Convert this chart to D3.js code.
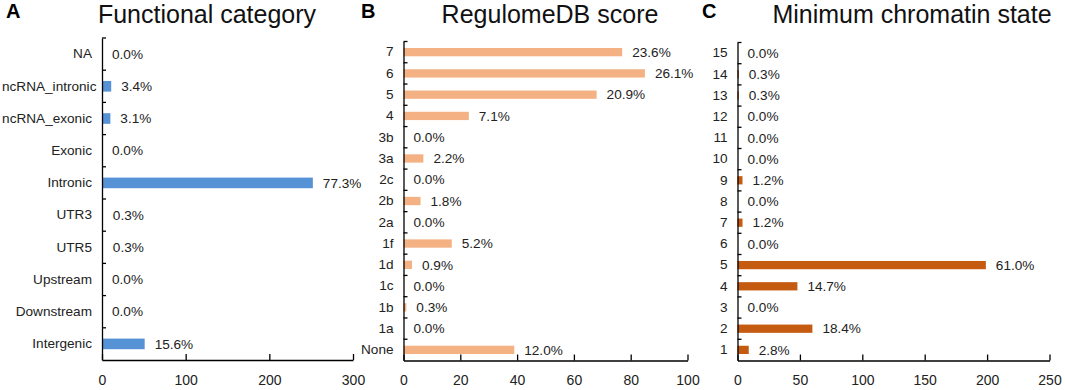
<!DOCTYPE html>
<html>
<head>
<meta charset="utf-8">
<script src="https://cdn.jsdelivr.net/npm/d3@7"></script>
<style>
  html, body { margin: 0; padding: 0; background: #fff; }
  svg { display: block; font-family: Arial, "Liberation Sans", sans-serif; }
</style>
</head>
<body>
<svg id="chart" width="1065" height="390"></svg>
<script>
// ---- Data ----
const funcCategories = ["NA", "ncRNA_intronic", "ncRNA_exonic", "Exonic", "Intronic", "UTR3", "UTR5", "Upstream", "Downstream", "Intergenic"];
const funcCounts = [0, 11, 10, 0, 252, 1, 1, 0, 0, 51];
const funcPercents = ["0.0%", "3.4%", "3.1%", "0.0%", "77.3%", "0.3%", "0.3%", "0.0%", "0.0%", "15.6%"];
const funcTicks = [0, 100, 200, 300];

const regCategories = ["7", "6", "5", "4", "3b", "3a", "2c", "2b", "2a", "1f", "1d", "1c", "1b", "1a", "None"];
const regCounts = [77, 85, 68, 23, 0, 7, 0, 6, 0, 17, 3, 0, 1, 0, 39];
const regPercents = ["23.6%", "26.1%", "20.9%", "7.1%", "0.0%", "2.2%", "0.0%", "1.8%", "0.0%", "5.2%", "0.9%", "0.0%", "0.3%", "0.0%", "12.0%"];
const regTicks = [0, 20, 40, 60, 80, 100];

const chromCategories = ["15", "14", "13", "12", "11", "10", "9", "8", "7", "6", "5", "4", "3", "2", "1"];
const chromCounts = [0, 1, 1, 0, 0, 0, 4, 0, 4, 0, 199, 48, 0, 60, 9];
const chromPercents = ["0.0%", "0.3%", "0.3%", "0.0%", "0.0%", "0.0%", "1.2%", "0.0%", "1.2%", "0.0%", "61.0%", "14.7%", "0.0%", "18.4%", "2.8%"];
const chromTicks = [0, 50, 100, 150, 200, 250];

const titles = ["Functional category", "RegulomeDB score", "Minimum chromatin state"];
const letters = ["A", "B", "C"];

// ---- Drawing ----
const svg = d3.select("#chart");
const FONT = "Arial, 'Liberation Sans', sans-serif";

function drawPanel(cfg) {
  const g = svg.append("g");
  const x = d3.scaleLinear().domain([0, cfg.ticks[cfg.ticks.length - 1]]).range([cfg.x0, cfg.x1]);
  const y = d3.scaleBand().domain(cfg.categories).range([cfg.top, cfg.bottom]);
  const bw = y.bandwidth();
  const bh = bw * cfg.barRatio;

  // bars
  g.selectAll("rect.bar").data(cfg.categories).enter().append("rect")
    .attr("class", "bar")
    .attr("x", x(0))
    .attr("y", d => y(d) + bw / 2 - bh / 2)
    .attr("width", (d, i) => x(cfg.counts[i]) - x(0))
    .attr("height", bh)
    .attr("fill", cfg.color);

  // value labels
  g.selectAll("text.val").data(cfg.categories).enter().append("text")
    .attr("class", "val")
    .attr("x", (d, i) => x(cfg.counts[i]) + 10)
    .attr("y", d => y(d) + bw / 2)
    .attr("dy", "0.35em")
    .attr("font-size", 13.6)
    .attr("font-family", FONT)
    .attr("fill", "#222")
    .text((d, i) => cfg.percents[i]);

  // x axis
  const xAxis = d3.axisBottom(x).tickValues(cfg.ticks).tickSizeInner(-6).tickSizeOuter(0).tickPadding(15).tickFormat(d3.format("d"));
  const gx = g.append("g").attr("transform", `translate(0,${cfg.bottom})`).call(xAxis);
  gx.selectAll("path.domain").attr("stroke", "#000").attr("stroke-width", 1.3);
  gx.selectAll(".tick line").attr("stroke", "#000").attr("stroke-width", 1.3);
  gx.selectAll(".tick text").attr("font-size", 14).attr("font-family", FONT).attr("fill", "#222");

  // y axis (labels)
  const yAxis = d3.axisLeft(y).tickSize(0).tickPadding(10);
  const gy = g.append("g").attr("transform", `translate(${cfg.x0},0)`).call(yAxis);
  gy.selectAll("path.domain").attr("stroke", "#000").attr("stroke-width", 1.3);
  gy.selectAll(".tick text").attr("font-size", 13.6).attr("font-family", FONT).attr("fill", "#222");
  // keep long labels inside the picture
  gy.selectAll(".tick text").each(function () {
    const b = this.getBBox();
    const left = cfg.x0 + b.x;
    if (left < 2) {
      d3.select(this).attr("x", +d3.select(this).attr("x") + (2 - left));
    }
  });

  // y boundary ticks (pointing inward)
  const bounds = cfg.categories.map(c => y(c));
  g.selectAll("line.ytick").data(bounds).enter().append("line")
    .attr("class", "ytick")
    .attr("x1", x(0)).attr("x2", x(0) + 4)
    .attr("y1", d => d).attr("y2", d => d)
    .attr("stroke", "#000").attr("stroke-width", 1.3);

  // title
  svg.append("text").attr("x", cfg.titleX).attr("y", 23)
    .attr("text-anchor", "middle").attr("font-size", 25).attr("font-family", FONT).attr("fill", "#111")
    .text(cfg.title);
  svg.append("text").attr("x", cfg.letterX).attr("y", 18)
    .attr("font-size", 20).attr("font-weight", "bold").attr("font-family", FONT).attr("fill", "#000")
    .text(cfg.letter);
}

drawPanel({
  categories: funcCategories, counts: funcCounts, percents: funcPercents, ticks: funcTicks,
  x0: 102, x1: 353, top: 38, bottom: 360, barRatio: 0.33, color: "#5592d6",
  title: titles[0], titleX: 207, letter: letters[0], letterX: 6
});
drawPanel({
  categories: regCategories, counts: regCounts, percents: regPercents, ticks: regTicks,
  x0: 403.5, x1: 687.5, top: 41.5, bottom: 360.5, barRatio: 0.39, color: "#f4b183",
  title: titles[1], titleX: 550, letter: letters[1], letterX: 361
});
drawPanel({
  categories: chromCategories, counts: chromCounts, percents: chromPercents, ticks: chromTicks,
  x0: 737.5, x1: 1049.5, top: 42.5, bottom: 360.5, barRatio: 0.39, color: "#c55a11",
  title: titles[2], titleX: 912, letter: letters[2], letterX: 702
});
</script>
</body>
</html>
